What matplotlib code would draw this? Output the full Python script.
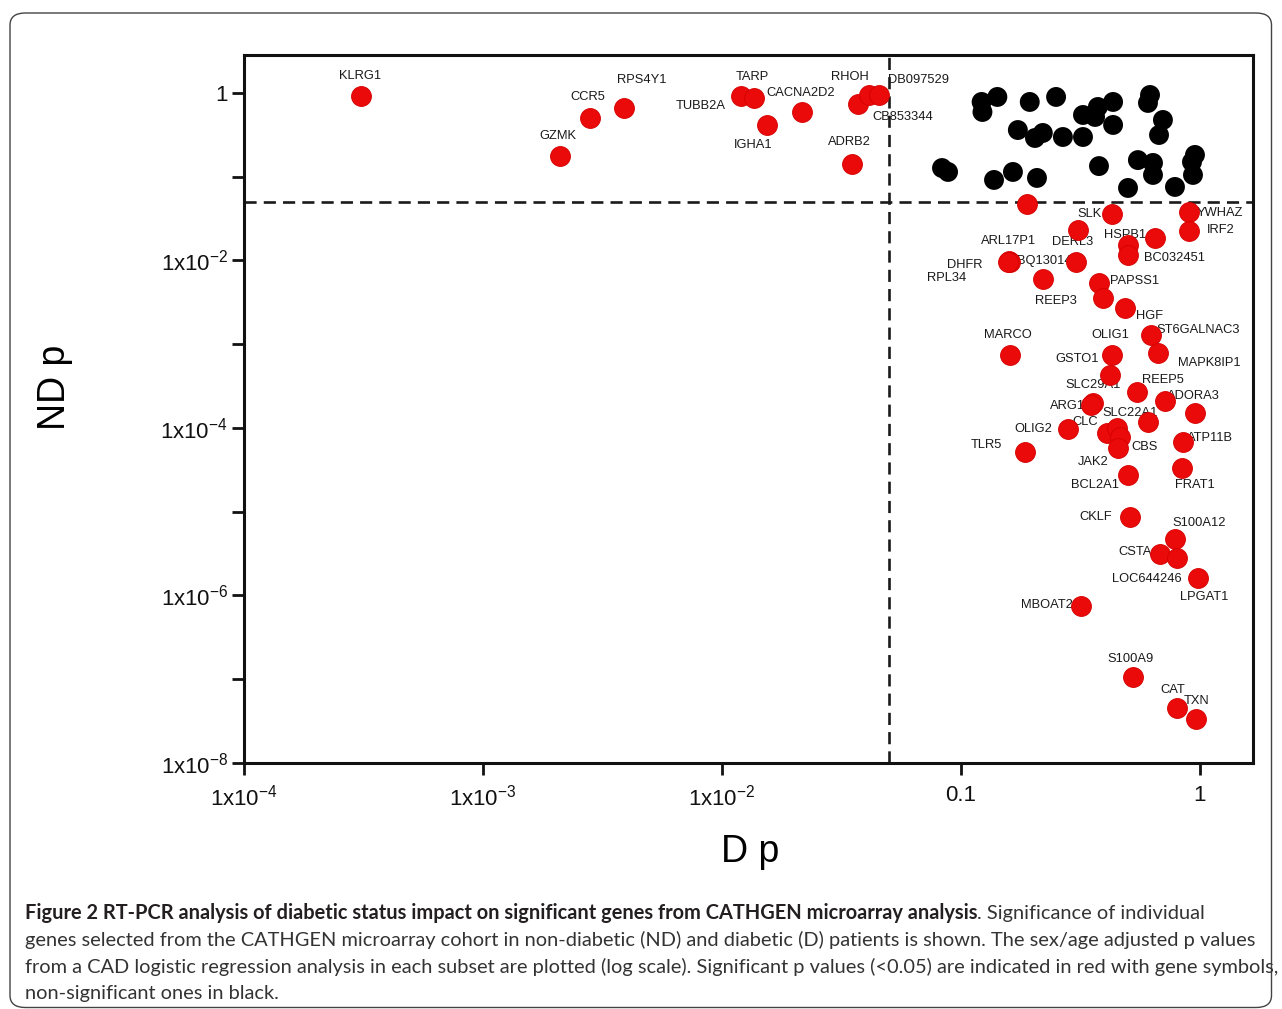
import matplotlib
matplotlib.use("Agg")
import matplotlib.pyplot as plt
from matplotlib.patches import FancyBboxPatch

# significant genes (red) : D p-value, ND p-value
red_genes = [
    "KLRG1", "CCR5", "RPS4Y1", "GZMK", "TUBB2A", "TARP", "IGHA1", "CACNA2D2",
    "ADRB2", "RHOH", "CB853344", "DB097529", "", "SLK", "YWHAZ", "IRF2",
    "DERL3", "BC032451", "HSPB1", "", "ARL17P1", "DHFR", "RPL34", "BQ130147",
    "PAPSS1", "REEP3", "", "HGF", "ST6GALNAC3", "MAPK8IP1", "MARCO", "OLIG1",
    "GSTO1", "REEP5", "ADORA3", "", "SLC29A1", "ARG1", "SLC22A1", "OLIG2",
    "CLC", "", "JAK2", "CBS", "TLR5", "ATP11B", "FRAT1", "BCL2A1",
    "CKLF", "S100A12", "CSTA", "LOC644246", "LPGAT1", "MBOAT2", "S100A9", "CAT",
    "TXN",
]
red_d_p = [
    3.1e-4, 2.8e-3, 3.9e-3, 2.1e-3, 0.0120, 0.0136, 0.0155, 0.0216,
    0.035, 0.0371, 0.0412, 0.0454, 0.189, 0.428, 0.90, 0.90,
    0.309, 0.648, 0.50, 0.50, 0.159, 0.160, 0.158, 0.303,
    0.378, 0.220, 0.393, 0.486, 0.624, 0.667, 0.160, 0.428,
    0.42, 0.545, 0.714, 0.953, 0.357, 0.35, 0.606, 0.280,
    0.408, 0.45, 0.463, 0.454, 0.185, 0.849, 0.841, 0.50,
    0.51, 0.786, 0.68, 0.80, 0.98, 0.318, 0.525, 0.80,
    0.962,
]
red_nd_p = [
    0.92, 0.50, 0.66, 0.177, 0.92, 0.87, 0.415, 0.59,
    0.142, 0.74, 0.946, 0.946, 0.047, 0.0359, 0.038, 0.0225,
    0.0231, 0.0186, 0.0153, 0.0116, 0.0099, 0.0097, 0.0095, 0.0096,
    0.0054, 0.0060, 0.0036, 0.0027, 0.00129, 7.9e-4, 7.4e-4, 7.4e-4,
    4.3e-4, 2.7e-4, 2.1e-4, 1.5e-4, 2.0e-4, 1.9e-4, 1.18e-4, 9.7e-5,
    8.7e-5, 1.0e-4, 7.8e-5, 5.8e-5, 5.2e-5, 6.8e-5, 3.3e-5, 2.75e-5,
    8.6e-6, 4.7e-6, 3.1e-6, 2.8e-6, 1.6e-6, 7.5e-7, 1.06e-7, 4.5e-8,
    3.35e-8,
]

# non-significant genes (black)
black_d_p = [
    0.122, 0.123, 0.142, 0.194, 0.25, 0.173, 0.204, 0.220, 0.267, 0.324,
    0.324, 0.364, 0.374, 0.433, 0.433, 0.618, 0.606, 0.70, 0.674, 0.0833,
    0.0883, 0.1375, 0.165, 0.208, 0.378, 0.50, 0.55, 0.636, 0.636, 0.786,
    0.953, 0.926, 0.935,
]
black_nd_p = [
    0.781, 0.593, 0.896, 0.781, 0.896, 0.361, 0.29, 0.333, 0.298, 0.298,
    0.546, 0.517, 0.68, 0.781, 0.415, 0.946, 0.76, 0.476, 0.315, 0.127,
    0.114, 0.0915, 0.114, 0.0967, 0.134, 0.0734, 0.158, 0.146, 0.105, 0.0755,
    0.182, 0.15, 0.105,
]

x_ticks = [1e-4, 1e-3, 1e-2, 0.1, 1]
x_ticklabels = ["1x10$^{-4}$", "1x10$^{-3}$", "1x10$^{-2}$", "0.1", "1"]
y_ticks = [1e-8, 1e-7, 1e-6, 1e-5, 1e-4, 1e-3, 1e-2, 1e-1, 1]
y_ticklabels = ["1x10$^{-8}$", "", "1x10$^{-6}$", "", "1x10$^{-4}$", "",
                "1x10$^{-2}$", "", "1"]
cutoff = 0.05

# label placement (pixel offsets from each red point)
label_offsets = [
    (-1, 20), (-2, 21), (18, 28), (-2, 20), (-40, -10), (-2, 21), (-14, -20), (-1, 19),
    (-3, 22), (-8, 27), (34, -22), (39, 15), (0, 0), (-22, 0), (31, -1), (32, 1),
    (-5, -12), (20, -20), (-3, 10), (0, 0), (-1, 20), (-45, -3), (-62, -16), (-28, 1),
    (36, 2), (13, -22), (0, 0), (24, -8), (47, 5), (51, -10), (-2, 20), (-2, 20),
    (-33, 16), (26, 12), (28, 5), (0, 0), (0, 18), (-23, -1), (-18, 9), (-35, 0),
    (-22, 11), (0, 0), (-27, -25), (27, 1), (-38, 7), (27, 4), (13, -17), (-33, -10),
    (-34, 0), (24, 16), (-25, 2), (-30, -21), (6, -19), (-34, 1), (-3, 18), (-4, 18),
    (1, 18),
]

plt.rcParams["font.family"] = ["Liberation Sans", "DejaVu Sans"]
plt.rcParams["mathtext.default"] = "regular"

W, H = 1282, 1009
fig = plt.figure(figsize=(W / 100, H / 100), dpi=100)
ax = fig.add_axes([244 / W, 1 - 763 / H, (1253 - 244) / W, (763 - 55) / H])

ax.set_xscale("log")
ax.set_yscale("log")
ax.set_xlim(1e-4, 1.667)
ax.set_ylim(1e-8, 2.84)

ax.axvline(cutoff, color="#1a1a1a", lw=1.9, ls=(0, (4.6, 2.7)), zorder=1)
ax.axhline(cutoff, color="#1a1a1a", lw=1.9, ls=(0, (4.6, 2.7)), zorder=1)

ax.scatter(black_d_p, black_nd_p, s=205, color="black", edgecolors="none", zorder=4)
ax.scatter(red_d_p, red_nd_p, s=205, color="#ea0a0a", edgecolors="#d40000",
           linewidths=0.6, zorder=4)

for gene, xv, yv, off in zip(red_genes, red_d_p, red_nd_p, label_offsets):
    if not gene:
        continue
    ax.annotate(gene, xy=(xv, yv), xytext=off, textcoords="offset pixels",
                ha="center", va="center", fontsize=9.3, color="#1a1a1a", zorder=3)

ax.set_xticks(x_ticks)
ax.set_xticklabels(x_ticklabels)
ax.set_yticks(y_ticks)
ax.set_yticklabels(y_ticklabels)
ax.minorticks_off()
ax.tick_params(axis="both", which="major", length=8.5, width=2, labelsize=16,
               color="#111111", labelcolor="#111111")
ax.tick_params(axis="x", pad=7)
ax.tick_params(axis="y", pad=3)
for sp in ax.spines.values():
    sp.set_linewidth(2.2)
    sp.set_color("#111111")

ax.set_xlabel("D p", fontsize=27)
ax.set_ylabel("ND p", fontsize=27)
ax.xaxis.set_label_coords(0.5015, -0.126)
ax.xaxis.label.set_va("center")
ax.yaxis.set_label_coords(-0.187, 0.53)
ax.yaxis.label.set_va("center")

# outer panel frame
frame = FancyBboxPatch((10 / W, 1.5 / H), (W - 10.5) / W - 10 / W, (H - 13) / H - 1.5 / H,
                       boxstyle="round,pad=0,rounding_size=0.012",
                       transform=fig.transFigure, fill=False,
                       edgecolor="#444444", lw=1.0)
fig.add_artist(frame)

# caption, sized so the widest line spans the panel like the original
cap_font = ["Lato", "DejaVu Sans"]
x0 = 25 / W
bold_part = ("Figure 2 RT-PCR analysis of diabetic status impact on significant genes "
             "from CATHGEN microarray analysis")
caption_lines = [
    "genes selected from the CATHGEN microarray cohort in non-diabetic (ND) and diabetic (D) "
    "patients is shown. The sex/age adjusted p values",
    "from a CAD logistic regression analysis in each subset are plotted (log scale). "
    "Significant p values (<0.05) are indicated in red with gene symbols,",
    "non-significant ones in black.",
]
renderer = fig.canvas.get_renderer()
probe = fig.text(0, 0, caption_lines[1], fontsize=12, family=cap_font)
probe_w = probe.get_window_extent(renderer=renderer).width
probe.remove()
cap_size = 12 * 1253 / probe_w

t_bold = fig.text(x0, 1 - 913 / H, bold_part, fontsize=cap_size, family=cap_font,
                  weight="bold", va="center", color="#231f20")
bb = t_bold.get_window_extent(renderer=renderer)
fig.text(bb.x1 / W, 1 - 913 / H, ". Significance of individual", fontsize=cap_size,
         family=cap_font, va="center", color="#333333")
for i, line in enumerate(caption_lines):
    fig.text(x0, 1 - (940 + 26.5 * i) / H, line, fontsize=cap_size, family=cap_font,
             va="center", color="#333333")

fig.savefig("out.png", dpi=100)
